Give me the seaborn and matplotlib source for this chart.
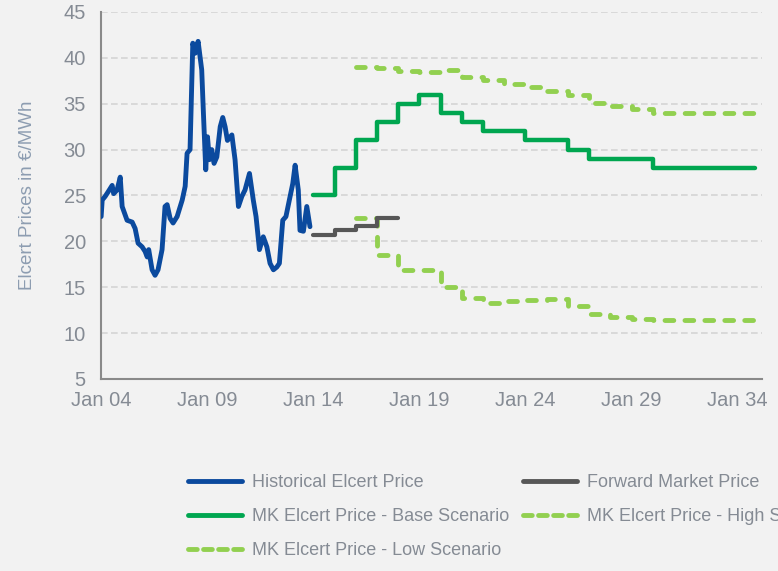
import pandas as pd
import numpy as np
import matplotlib
matplotlib.use("Agg")
import matplotlib.pyplot as plt
from matplotlib.lines import Line2D
import seaborn as sns

# historical elcert price (decimal year, EUR/MWh)
hist_years = [2004.00, 2004.05, 2004.19, 2004.33, 2004.52, 2004.59, 2004.75, 2004.90, 2004.99,
              2005.22, 2005.46, 2005.60, 2005.74, 2005.93, 2006.07, 2006.17, 2006.24, 2006.40,
              2006.54, 2006.68, 2006.87, 2007.01, 2007.11, 2007.25, 2007.39, 2007.58, 2007.82,
              2007.96, 2008.05, 2008.19, 2008.32, 2008.43, 2008.57, 2008.74, 2008.82, 2008.93,
              2009.01, 2009.10, 2009.21, 2009.32, 2009.45, 2009.61, 2009.73, 2009.84, 2009.95,
              2010.16, 2010.31, 2010.47, 2010.63, 2010.78, 2010.99, 2011.17, 2011.30, 2011.46,
              2011.64, 2011.81, 2011.96, 2012.12, 2012.28, 2012.40, 2012.56, 2012.71, 2012.87,
              2013.03, 2013.14, 2013.29, 2013.37, 2013.53, 2013.69, 2013.84]
hist_price = [22.7, 24.5, 24.9, 25.4, 26.1, 25.2, 25.6, 27.0, 23.8,
              22.3, 22.1, 21.4, 19.8, 19.4, 18.9, 18.3, 19.1, 16.9,
              16.3, 16.9, 19.1, 23.8, 24.0, 22.5, 22.0, 22.7, 24.5,
              26.0, 29.6, 30.0, 41.6, 40.5, 41.8, 38.7, 34.0, 27.8,
              31.4, 28.9, 30.0, 28.5, 29.2, 32.5, 33.5, 32.5, 31.0,
              31.6, 28.9, 23.8, 24.9, 25.6, 27.4, 24.5, 22.7, 19.1,
              20.5, 19.4, 17.6, 16.9, 17.2, 17.6, 22.3, 22.7, 24.5,
              26.3, 28.3, 25.6, 21.2, 21.1, 23.8, 21.6]

# forward market (yearly steps, last value repeated at end point)
fwd_years = [2014, 2015, 2016, 2017, 2018]
fwd_price = [20.7, 21.2, 21.7, 22.6, 22.6]

# MK scenarios (yearly steps)
base_years = list(range(2014, 2035)) + [2034.8]
base_price = [25, 28, 31, 33, 35, 36, 34, 33, 32, 32, 31, 31, 30, 29, 29, 29, 28, 28, 28, 28, 28, 28]

high_years = list(range(2016, 2035)) + [2035.2]
high_price = [39.0, 38.85, 38.6, 38.5, 38.7, 37.9, 37.6, 37.1, 36.8, 36.4, 35.9, 35.1, 34.8, 34.4,
              34.0, 34.0, 34.0, 34.0, 34.0, 34.0]

low_years = list(range(2016, 2035)) + [2035.2]
low_price = [22.6, 18.5, 16.9, 16.9, 15.0, 13.8, 13.3, 13.5, 13.6, 13.7, 13.0, 12.1, 11.8, 11.5,
             11.4, 11.4, 11.4, 11.4, 11.4, 11.4]

tick_years = [2004, 2009, 2014, 2019, 2024, 2029, 2034]


def to_dates(years):
    out = []
    for y in years:
        base = pd.Timestamp(year=int(y), month=1, day=1)
        out.append(base + pd.Timedelta(days=(y - int(y)) * 365.25))
    return pd.to_datetime(out)


BG = "#f2f2f2"
TXT = "#858b94"
SPINE = "#8a8a8a"
C_HIST = "#0b4a9e"
C_FWD = "#575757"
C_BASE = "#00a650"
C_SCEN = "#92d050"
DASH = (0, (1.8, 2.3))

sns.set_style("white")
plt.rcParams["font.family"] = ["Liberation Sans", "DejaVu Sans"]

fig = plt.figure(figsize=(7.78, 5.71), dpi=100, facecolor=BG)
ax = fig.add_axes([0.13, 0.3363, 0.849, 0.6427], facecolor=BG)

hist = pd.DataFrame({"date": to_dates(hist_years), "price": hist_price})
fwd = pd.DataFrame({"date": to_dates(fwd_years), "price": fwd_price})
base = pd.DataFrame({"date": to_dates(base_years), "price": base_price})
high = pd.DataFrame({"date": to_dates(high_years), "price": high_price})
low = pd.DataFrame({"date": to_dates(low_years), "price": low_price})

sns.lineplot(data=hist, x="date", y="price", ax=ax, color=C_HIST, lw=3.5,
             estimator=None, solid_joinstyle="round", solid_capstyle="round", zorder=5)
sns.lineplot(data=fwd, x="date", y="price", ax=ax, color=C_FWD, lw=3.0,
             estimator=None, drawstyle="steps-post", solid_capstyle="round", zorder=4)
sns.lineplot(data=base, x="date", y="price", ax=ax, color=C_BASE, lw=3.2,
             estimator=None, drawstyle="steps-post", solid_capstyle="round", zorder=4)
sns.lineplot(data=high, x="date", y="price", ax=ax, color=C_SCEN, lw=3.5, linestyle=DASH,
             estimator=None, drawstyle="steps-post", dash_capstyle="round", zorder=3)
sns.lineplot(data=low, x="date", y="price", ax=ax, color=C_SCEN, lw=3.5, linestyle=DASH,
             estimator=None, drawstyle="steps-post", dash_capstyle="round", zorder=3)

ax.set_ylim(5, 45)
ax.set_yticks(range(5, 50, 5))
ax.set_xlim(to_dates([2004.0])[0], to_dates([2035.13])[0])
ax.set_xticks(to_dates(tick_years))
ax.set_xticklabels(["Jan %02d" % (y % 100) for y in tick_years])

ax.yaxis.grid(True, color="#d4d4d4", linestyle=(0, (4, 2)), lw=1.2)
ax.xaxis.grid(False)
for s in ["top", "right"]:
    ax.spines[s].set_visible(False)
for s in ["left", "bottom"]:
    ax.spines[s].set_color(SPINE)
    ax.spines[s].set_linewidth(1.5)
ax.tick_params(axis="both", colors=SPINE, labelcolor=TXT, labelsize=14.5,
               length=5, width=1.5, direction="out")
ax.tick_params(axis="y", pad=6)
ax.tick_params(axis="x", pad=4)

ax.set_xlabel("")
ax.set_ylabel("Elcert Prices in €/MWh", color="#8d9db1", fontsize=13.5, labelpad=20)

handles = [
    Line2D([], [], color=C_HIST, lw=3.5, solid_capstyle="round"),
    Line2D([], [], color=C_BASE, lw=3.5, solid_capstyle="round"),
    Line2D([], [], color=C_SCEN, lw=3.5, linestyle=(0, (1.8, 1.3)), dash_capstyle="round"),
    Line2D([], [], color=C_FWD, lw=3.5, solid_capstyle="round"),
    Line2D([], [], color=C_SCEN, lw=3.5, linestyle=(0, (1.8, 1.3)), dash_capstyle="round"),
]
labels = ["Historical Elcert Price", "MK Elcert Price - Base Scenario",
          "MK Elcert Price - Low Scenario", "Forward Market Price",
          "MK Elcert Price - High Scenario"]
leg = fig.legend(handles, labels, loc="upper left", bbox_to_anchor=(0.242, 0.170),
                 ncol=2, frameon=False, fontsize=13, handlelength=3.0,
                 handletextpad=0.55, columnspacing=0.75, labelspacing=0.95,
                 borderpad=0, borderaxespad=0)
for t in leg.get_texts():
    t.set_color(TXT)

fig.savefig("out.png", dpi=100, facecolor=BG)
